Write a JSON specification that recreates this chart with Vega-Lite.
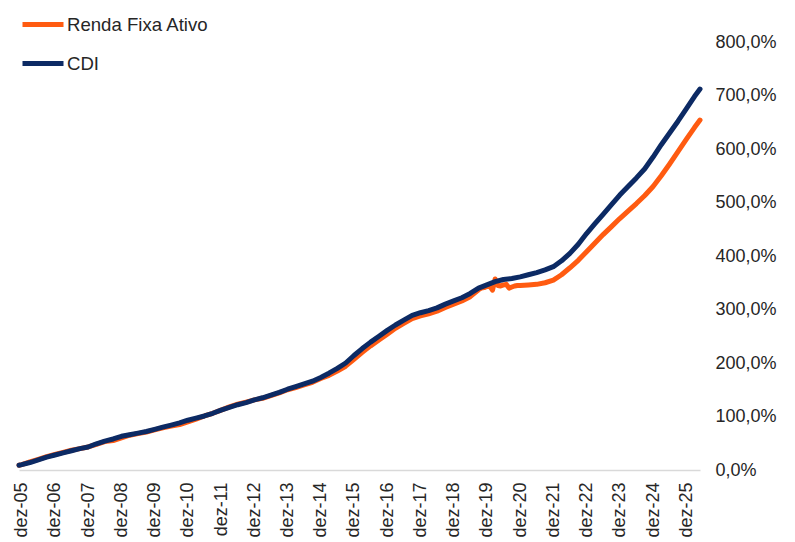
{
  "$schema": "https://vega.github.io/schema/vega-lite/v6.json",
  "width": 681,
  "height": 428,
  "autosize": "none",
  "padding": {"left": 19, "top": 42, "right": 95, "bottom": 72},
  "background": "white",
  "config": {
    "view": {"stroke": null},
    "font": "Liberation Sans"
  },
  "data": {
    "values": [
      {"d": "2005-11-01", "s": "CDI", "v": 9},
      {"d": "2005-12-01", "s": "CDI", "v": 10},
      {"d": "2006-03-01", "s": "CDI", "v": 14},
      {"d": "2006-06-01", "s": "CDI", "v": 19},
      {"d": "2006-09-01", "s": "CDI", "v": 24},
      {"d": "2006-12-01", "s": "CDI", "v": 28},
      {"d": "2007-03-01", "s": "CDI", "v": 32},
      {"d": "2007-06-01", "s": "CDI", "v": 36},
      {"d": "2007-09-01", "s": "CDI", "v": 40},
      {"d": "2007-12-01", "s": "CDI", "v": 43},
      {"d": "2008-03-01", "s": "CDI", "v": 49},
      {"d": "2008-06-01", "s": "CDI", "v": 54},
      {"d": "2008-09-01", "s": "CDI", "v": 58},
      {"d": "2008-12-01", "s": "CDI", "v": 63},
      {"d": "2009-03-01", "s": "CDI", "v": 66},
      {"d": "2009-06-01", "s": "CDI", "v": 69},
      {"d": "2009-09-01", "s": "CDI", "v": 72},
      {"d": "2009-12-01", "s": "CDI", "v": 76},
      {"d": "2010-03-01", "s": "CDI", "v": 80},
      {"d": "2010-06-01", "s": "CDI", "v": 84},
      {"d": "2010-09-01", "s": "CDI", "v": 88},
      {"d": "2010-12-01", "s": "CDI", "v": 93},
      {"d": "2011-03-01", "s": "CDI", "v": 97},
      {"d": "2011-06-01", "s": "CDI", "v": 101},
      {"d": "2011-09-01", "s": "CDI", "v": 106},
      {"d": "2011-12-01", "s": "CDI", "v": 112},
      {"d": "2012-03-01", "s": "CDI", "v": 117},
      {"d": "2012-06-01", "s": "CDI", "v": 122},
      {"d": "2012-09-01", "s": "CDI", "v": 126},
      {"d": "2012-12-01", "s": "CDI", "v": 131},
      {"d": "2013-03-01", "s": "CDI", "v": 135},
      {"d": "2013-06-01", "s": "CDI", "v": 140},
      {"d": "2013-09-01", "s": "CDI", "v": 145},
      {"d": "2013-12-01", "s": "CDI", "v": 151},
      {"d": "2014-03-01", "s": "CDI", "v": 156},
      {"d": "2014-06-01", "s": "CDI", "v": 161},
      {"d": "2014-09-01", "s": "CDI", "v": 166},
      {"d": "2014-12-01", "s": "CDI", "v": 173},
      {"d": "2015-03-01", "s": "CDI", "v": 181},
      {"d": "2015-06-01", "s": "CDI", "v": 190},
      {"d": "2015-09-01", "s": "CDI", "v": 200},
      {"d": "2015-12-01", "s": "CDI", "v": 214},
      {"d": "2016-03-01", "s": "CDI", "v": 227},
      {"d": "2016-06-01", "s": "CDI", "v": 239},
      {"d": "2016-09-01", "s": "CDI", "v": 250},
      {"d": "2016-12-01", "s": "CDI", "v": 261},
      {"d": "2017-03-01", "s": "CDI", "v": 271},
      {"d": "2017-06-01", "s": "CDI", "v": 280},
      {"d": "2017-09-01", "s": "CDI", "v": 289},
      {"d": "2017-12-01", "s": "CDI", "v": 294},
      {"d": "2018-03-01", "s": "CDI", "v": 298},
      {"d": "2018-06-01", "s": "CDI", "v": 303},
      {"d": "2018-09-01", "s": "CDI", "v": 310},
      {"d": "2018-12-01", "s": "CDI", "v": 316},
      {"d": "2019-03-01", "s": "CDI", "v": 322},
      {"d": "2019-06-01", "s": "CDI", "v": 330},
      {"d": "2019-09-01", "s": "CDI", "v": 340},
      {"d": "2019-12-01", "s": "CDI", "v": 346},
      {"d": "2020-03-01", "s": "CDI", "v": 352},
      {"d": "2020-06-01", "s": "CDI", "v": 356},
      {"d": "2020-09-01", "s": "CDI", "v": 358},
      {"d": "2020-12-01", "s": "CDI", "v": 361},
      {"d": "2021-03-01", "s": "CDI", "v": 365},
      {"d": "2021-06-01", "s": "CDI", "v": 369},
      {"d": "2021-09-01", "s": "CDI", "v": 374},
      {"d": "2021-12-01", "s": "CDI", "v": 380},
      {"d": "2022-03-01", "s": "CDI", "v": 391},
      {"d": "2022-06-01", "s": "CDI", "v": 405},
      {"d": "2022-09-01", "s": "CDI", "v": 422},
      {"d": "2022-12-01", "s": "CDI", "v": 442},
      {"d": "2023-03-01", "s": "CDI", "v": 460},
      {"d": "2023-06-01", "s": "CDI", "v": 478},
      {"d": "2023-09-01", "s": "CDI", "v": 496},
      {"d": "2023-12-01", "s": "CDI", "v": 514},
      {"d": "2024-03-01", "s": "CDI", "v": 530},
      {"d": "2024-06-01", "s": "CDI", "v": 546},
      {"d": "2024-09-01", "s": "CDI", "v": 563},
      {"d": "2024-12-01", "s": "CDI", "v": 585},
      {"d": "2025-03-01", "s": "CDI", "v": 608},
      {"d": "2025-06-01", "s": "CDI", "v": 630},
      {"d": "2025-09-01", "s": "CDI", "v": 652},
      {"d": "2025-12-01", "s": "CDI", "v": 675},
      {"d": "2026-03-01", "s": "CDI", "v": 698},
      {"d": "2026-05-01", "s": "CDI", "v": 712},
      {"d": "2005-11-01", "s": "Renda Fixa Ativo", "v": 9},
      {"d": "2005-12-01", "s": "Renda Fixa Ativo", "v": 10},
      {"d": "2006-03-01", "s": "Renda Fixa Ativo", "v": 15},
      {"d": "2006-06-01", "s": "Renda Fixa Ativo", "v": 20},
      {"d": "2006-09-01", "s": "Renda Fixa Ativo", "v": 25},
      {"d": "2006-12-01", "s": "Renda Fixa Ativo", "v": 29},
      {"d": "2007-03-01", "s": "Renda Fixa Ativo", "v": 33},
      {"d": "2007-06-01", "s": "Renda Fixa Ativo", "v": 37},
      {"d": "2007-09-01", "s": "Renda Fixa Ativo", "v": 40},
      {"d": "2007-12-01", "s": "Renda Fixa Ativo", "v": 43},
      {"d": "2008-03-01", "s": "Renda Fixa Ativo", "v": 48},
      {"d": "2008-06-01", "s": "Renda Fixa Ativo", "v": 53},
      {"d": "2008-09-01", "s": "Renda Fixa Ativo", "v": 55},
      {"d": "2008-12-01", "s": "Renda Fixa Ativo", "v": 60},
      {"d": "2009-03-01", "s": "Renda Fixa Ativo", "v": 65},
      {"d": "2009-06-01", "s": "Renda Fixa Ativo", "v": 68},
      {"d": "2009-09-01", "s": "Renda Fixa Ativo", "v": 71},
      {"d": "2009-12-01", "s": "Renda Fixa Ativo", "v": 75},
      {"d": "2010-03-01", "s": "Renda Fixa Ativo", "v": 79},
      {"d": "2010-06-01", "s": "Renda Fixa Ativo", "v": 82},
      {"d": "2010-09-01", "s": "Renda Fixa Ativo", "v": 85},
      {"d": "2010-12-01", "s": "Renda Fixa Ativo", "v": 90},
      {"d": "2011-03-01", "s": "Renda Fixa Ativo", "v": 95},
      {"d": "2011-06-01", "s": "Renda Fixa Ativo", "v": 101},
      {"d": "2011-09-01", "s": "Renda Fixa Ativo", "v": 106},
      {"d": "2011-12-01", "s": "Renda Fixa Ativo", "v": 112},
      {"d": "2012-03-01", "s": "Renda Fixa Ativo", "v": 118},
      {"d": "2012-06-01", "s": "Renda Fixa Ativo", "v": 123},
      {"d": "2012-09-01", "s": "Renda Fixa Ativo", "v": 127},
      {"d": "2012-12-01", "s": "Renda Fixa Ativo", "v": 131},
      {"d": "2013-03-01", "s": "Renda Fixa Ativo", "v": 134},
      {"d": "2013-06-01", "s": "Renda Fixa Ativo", "v": 139},
      {"d": "2013-09-01", "s": "Renda Fixa Ativo", "v": 144},
      {"d": "2013-12-01", "s": "Renda Fixa Ativo", "v": 150},
      {"d": "2014-03-01", "s": "Renda Fixa Ativo", "v": 154},
      {"d": "2014-06-01", "s": "Renda Fixa Ativo", "v": 159},
      {"d": "2014-09-01", "s": "Renda Fixa Ativo", "v": 164},
      {"d": "2014-12-01", "s": "Renda Fixa Ativo", "v": 171},
      {"d": "2015-03-01", "s": "Renda Fixa Ativo", "v": 177},
      {"d": "2015-06-01", "s": "Renda Fixa Ativo", "v": 185},
      {"d": "2015-09-01", "s": "Renda Fixa Ativo", "v": 194},
      {"d": "2015-12-01", "s": "Renda Fixa Ativo", "v": 207},
      {"d": "2016-03-01", "s": "Renda Fixa Ativo", "v": 220},
      {"d": "2016-06-01", "s": "Renda Fixa Ativo", "v": 232},
      {"d": "2016-09-01", "s": "Renda Fixa Ativo", "v": 243},
      {"d": "2016-12-01", "s": "Renda Fixa Ativo", "v": 254},
      {"d": "2017-03-01", "s": "Renda Fixa Ativo", "v": 265},
      {"d": "2017-06-01", "s": "Renda Fixa Ativo", "v": 274},
      {"d": "2017-09-01", "s": "Renda Fixa Ativo", "v": 283},
      {"d": "2017-12-01", "s": "Renda Fixa Ativo", "v": 288},
      {"d": "2018-03-01", "s": "Renda Fixa Ativo", "v": 292},
      {"d": "2018-06-01", "s": "Renda Fixa Ativo", "v": 297},
      {"d": "2018-09-01", "s": "Renda Fixa Ativo", "v": 304},
      {"d": "2018-12-01", "s": "Renda Fixa Ativo", "v": 310},
      {"d": "2019-03-01", "s": "Renda Fixa Ativo", "v": 316},
      {"d": "2019-06-01", "s": "Renda Fixa Ativo", "v": 324},
      {"d": "2019-09-01", "s": "Renda Fixa Ativo", "v": 337},
      {"d": "2019-10-01", "s": "Renda Fixa Ativo", "v": 340},
      {"d": "2019-11-01", "s": "Renda Fixa Ativo", "v": 341},
      {"d": "2019-12-01", "s": "Renda Fixa Ativo", "v": 343},
      {"d": "2020-01-01", "s": "Renda Fixa Ativo", "v": 344},
      {"d": "2020-02-01", "s": "Renda Fixa Ativo", "v": 336},
      {"d": "2020-03-01", "s": "Renda Fixa Ativo", "v": 357},
      {"d": "2020-04-01", "s": "Renda Fixa Ativo", "v": 345},
      {"d": "2020-05-01", "s": "Renda Fixa Ativo", "v": 344},
      {"d": "2020-06-01", "s": "Renda Fixa Ativo", "v": 346},
      {"d": "2020-07-01", "s": "Renda Fixa Ativo", "v": 347},
      {"d": "2020-08-01", "s": "Renda Fixa Ativo", "v": 340},
      {"d": "2020-09-01", "s": "Renda Fixa Ativo", "v": 342},
      {"d": "2020-10-01", "s": "Renda Fixa Ativo", "v": 344},
      {"d": "2020-11-01", "s": "Renda Fixa Ativo", "v": 345},
      {"d": "2020-12-01", "s": "Renda Fixa Ativo", "v": 345},
      {"d": "2021-03-01", "s": "Renda Fixa Ativo", "v": 346},
      {"d": "2021-06-01", "s": "Renda Fixa Ativo", "v": 347},
      {"d": "2021-09-01", "s": "Renda Fixa Ativo", "v": 350},
      {"d": "2021-12-01", "s": "Renda Fixa Ativo", "v": 355},
      {"d": "2022-03-01", "s": "Renda Fixa Ativo", "v": 365},
      {"d": "2022-06-01", "s": "Renda Fixa Ativo", "v": 378},
      {"d": "2022-09-01", "s": "Renda Fixa Ativo", "v": 392},
      {"d": "2022-12-01", "s": "Renda Fixa Ativo", "v": 408},
      {"d": "2023-03-01", "s": "Renda Fixa Ativo", "v": 424},
      {"d": "2023-06-01", "s": "Renda Fixa Ativo", "v": 440},
      {"d": "2023-09-01", "s": "Renda Fixa Ativo", "v": 455},
      {"d": "2023-12-01", "s": "Renda Fixa Ativo", "v": 470},
      {"d": "2024-03-01", "s": "Renda Fixa Ativo", "v": 484},
      {"d": "2024-06-01", "s": "Renda Fixa Ativo", "v": 498},
      {"d": "2024-09-01", "s": "Renda Fixa Ativo", "v": 513},
      {"d": "2024-12-01", "s": "Renda Fixa Ativo", "v": 530},
      {"d": "2025-03-01", "s": "Renda Fixa Ativo", "v": 550},
      {"d": "2025-06-01", "s": "Renda Fixa Ativo", "v": 572},
      {"d": "2025-09-01", "s": "Renda Fixa Ativo", "v": 595},
      {"d": "2025-12-01", "s": "Renda Fixa Ativo", "v": 618},
      {"d": "2026-03-01", "s": "Renda Fixa Ativo", "v": 640},
      {"d": "2026-05-01", "s": "Renda Fixa Ativo", "v": 654}
    ]
  },
  "encoding": {
    "x": {
      "field": "d",
      "type": "temporal",
      "scale": {"type": "utc", "domain": [{"year": 2005, "month": 11, "date": 1, "utc": true}, {"year": 2026, "month": 5, "date": 1, "utc": true}]},
      "axis": {
        "title": null,
        "values": [
          {"year": 2005, "month": 12, "date": 1, "utc": true},
          {"year": 2006, "month": 12, "date": 1, "utc": true},
          {"year": 2007, "month": 12, "date": 1, "utc": true},
          {"year": 2008, "month": 12, "date": 1, "utc": true},
          {"year": 2009, "month": 12, "date": 1, "utc": true},
          {"year": 2010, "month": 12, "date": 1, "utc": true},
          {"year": 2011, "month": 12, "date": 1, "utc": true},
          {"year": 2012, "month": 12, "date": 1, "utc": true},
          {"year": 2013, "month": 12, "date": 1, "utc": true},
          {"year": 2014, "month": 12, "date": 1, "utc": true},
          {"year": 2015, "month": 12, "date": 1, "utc": true},
          {"year": 2016, "month": 12, "date": 1, "utc": true},
          {"year": 2017, "month": 12, "date": 1, "utc": true},
          {"year": 2018, "month": 12, "date": 1, "utc": true},
          {"year": 2019, "month": 12, "date": 1, "utc": true},
          {"year": 2020, "month": 12, "date": 1, "utc": true},
          {"year": 2021, "month": 12, "date": 1, "utc": true},
          {"year": 2022, "month": 12, "date": 1, "utc": true},
          {"year": 2023, "month": 12, "date": 1, "utc": true},
          {"year": 2024, "month": 12, "date": 1, "utc": true},
          {"year": 2025, "month": 12, "date": 1, "utc": true}
        ],
        "labelExpr": "'dez-' + utcFormat(datum.value, '%y')",
        "labelAngle": 270,
        "labelAlign": "right",
        "labelBaseline": "middle",
        "labelPadding": 12,
        "labelFontSize": 18,
        "labelColor": "#262626",
        "labelFont": "Liberation Sans",
        "labelOverlap": false,
        "labelBound": false,
        "labelFlush": false,
        "ticks": false,
        "tickSize": 0,
        "grid": false,
        "domain": true,
        "domainColor": "#d9d9d9",
        "domainWidth": 1.5
      }
    },
    "y": {
      "field": "v",
      "type": "quantitative",
      "scale": {"domain": [0, 800], "nice": false, "zero": true},
      "axis": {
        "orient": "right",
        "title": null,
        "values": [0, 100, 200, 300, 400, 500, 600, 700, 800],
        "labelExpr": "replace(format(datum.value, '.1f'), '.', ',') + '%'",
        "labelFontSize": 18,
        "labelColor": "#262626",
        "labelFont": "Liberation Sans",
        "labelPadding": 15,
        "labelAlign": "left",
        "labelBaseline": "middle",
        "labelOverlap": false,
        "labelBound": false,
        "labelFlush": false,
        "ticks": false,
        "tickSize": 0,
        "grid": false,
        "domain": false
      }
    },
    "color": {
      "field": "s",
      "type": "nominal",
      "scale": {"domain": ["Renda Fixa Ativo", "CDI"], "range": ["#FF5B11", "#0C2A64"]},
      "legend": {
        "title": null,
        "orient": "none",
        "legendX": 1,
        "legendY": -40.5,
        "direction": "vertical",
        "padding": 0,
        "symbolType": "stroke",
        "symbolSize": 1681,
        "symbolStrokeWidth": 5,
        "labelFontSize": 18.6,
        "labelFont": "Liberation Sans",
        "labelColor": "#262626",
        "labelOffset": 1,
        "rowPadding": 6,
        "labelLimit": 300
      }
    }
  },
  "layer": [
    {
      "transform": [{"filter": "datum.s === 'Renda Fixa Ativo'"}],
      "mark": {"type": "line", "strokeWidth": 5, "strokeCap": "round", "strokeJoin": "round"}
    },
    {
      "transform": [{"filter": "datum.s === 'CDI'"}],
      "mark": {"type": "line", "strokeWidth": 5, "strokeCap": "round", "strokeJoin": "round"}
    }
  ]
}
